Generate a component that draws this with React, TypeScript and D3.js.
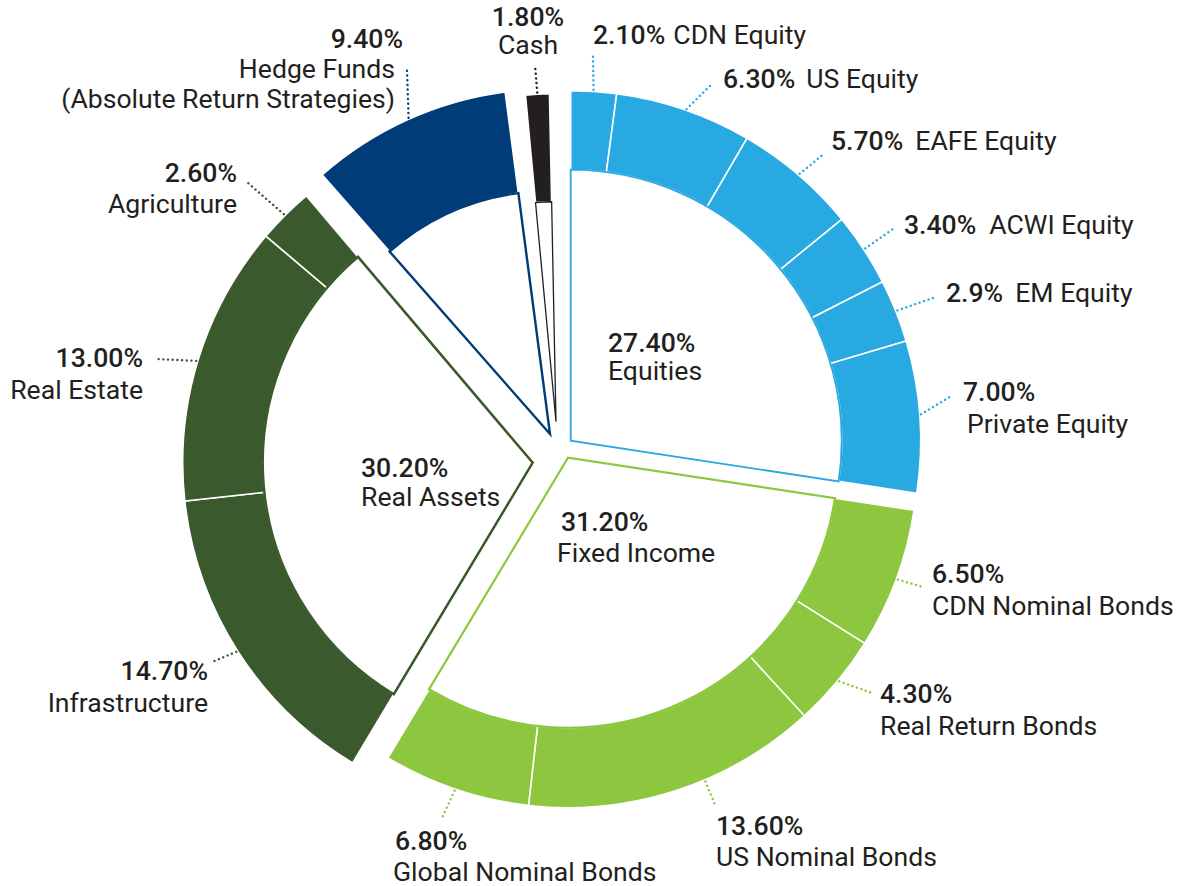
import React from 'react';
import * as d3 from 'd3';

// ---------- DATA ----------
const groupNames = ['Equities', 'Fixed Income', 'Real Assets', 'Hedge Funds', 'Cash'];
const groupValues = [27.4, 31.2, 30.2, 9.4, 1.8];
const groupValueText = ['27.40%', '31.20%', '30.20%', '9.40%', '1.80%'];

const equityNames = ['CDN Equity', 'US Equity', 'EAFE Equity', 'ACWI Equity', 'EM Equity', 'Private Equity'];
const equityValues = [2.1, 6.3, 5.7, 3.4, 2.9, 7.0];
const equityText = ['2.10%', '6.30%', '5.70%', '3.40%', '2.9%', '7.00%'];

const fixedNames = ['CDN Nominal Bonds', 'Real Return Bonds', 'US Nominal Bonds', 'Global Nominal Bonds'];
const fixedValues = [6.5, 4.3, 13.6, 6.8];
const fixedText = ['6.50%', '4.30%', '13.60%', '6.80%'];

const realNames = ['Infrastructure', 'Real Estate', 'Agriculture'];
const realValues = [14.7, 13.0, 2.6];
const realText = ['14.70%', '13.00%', '2.60%'];

const hedgeNames = ['Hedge Funds\n(Absolute Return Strategies)'];
const hedgeValues = [9.4];
const hedgeText = ['9.40%'];

const cashNames = ['Cash'];
const cashValues = [1.8];
const cashText = ['1.80%'];

const subNames = [equityNames, fixedNames, realNames, hedgeNames, cashNames];
const subValues = [equityValues, fixedValues, realValues, hedgeValues, cashValues];
const subText = [equityText, fixedText, realText, hedgeText, cashText];

// ---------- STYLE / LAYOUT ----------
const W = 1188;
const H = 886;
const CENTER: [number, number] = [555, 448];
const TEXT = '#231f20';
const FONT = 'Roboto, "Noto Sans", sans-serif';
const FS = 26.6;
const DEG = Math.PI / 180;

const groupColor: Record<string, string> = {
  'Equities': '#29a9e1',
  'Fixed Income': '#8dc63f',
  'Real Assets': '#3a5a2d',
  'Hedge Funds': '#003c78',
  'Cash': '#231f20',
};

const groupGeom: Record<string, any> = {
  'Equities': { dx: 15.7, dy: -7.3, rIn: 271, rOut: 350, trim: 0, rot: 0, sw: 1.8 },
  'Fixed Income': { dx: 13, dy: 9.7, rIn: 270, rOut: 350, trim: 0, rot: 0, sw: 2.2 },
  'Real Assets': { dx: -22.3, dy: 14.7, rIn: 270, rOut: 350, trim: 0, rot: 0, sw: 2.5 },
  'Hedge Funds': { dx: -5, dy: -14, rIn: 243, rOut: 345, trim: 0, rot: -1, sw: 2.4 },
  'Cash': { dx: 1, dy: -26.3, rIn: 220, rOut: 328, trim: 1.14, rot: 0, sw: 1.3 },
};

const centerLayout: Record<string, any> = {
  'Equities': { x: 608, y: 352, lh: 28 },
  'Fixed Income': { x: 561, x2: 557, y: 531, lh: 31 },
  'Real Assets': { x: 361, y: 477, lh: 29 },
};

const labelLayout: Record<string, any> = {
  'CDN Equity': { x: 593, y: 44, inline: true, gap: 8, lead: [593, 53] },
  'US Equity': { x: 723, y: 88, inline: true, gap: 11, lead: [711, 85] },
  'EAFE Equity': { x: 831, y: 150, inline: true, gap: 12, lead: [825, 153] },
  'ACWI Equity': { x: 904, y: 234, inline: true, gap: 13, lead: [893, 229] },
  'EM Equity': { x: 946, y: 302, inline: true, gap: 12, lead: [933, 298] },
  'Private Equity': { x: 963, x2: 967, y: 401, lh: 32, lead: [953, 395] },
  'CDN Nominal Bonds': { x: 932, y: 583, lh: 32, lead: [923, 587] },
  'Real Return Bonds': { x: 880, y: 703, lh: 32, lead: [872, 693] },
  'US Nominal Bonds': { x: 716, y: 835, lh: 31, lead: [716, 807], aoff: -5 },
  'Global Nominal Bonds': { x: 395, x2: 393, y: 850, lh: 31, lead: [442, 818] },
  'Infrastructure': { x: 208, y: 680, lh: 32, anchor: 'end', lead: [212, 662] },
  'Real Estate': { x: 143, y: 367, lh: 32, anchor: 'end', lead: [155, 359] },
  'Agriculture': { x: 237, y: 182, lh: 31, anchor: 'end', lead: [248, 183] },
  'Hedge Funds\n(Absolute Return Strategies)': { x: 403, x2: 395, y: 48, lh: 30, anchor: 'end', lead: [407, 70] },
  'Cash': { x: 528, y: 26, lh: 28, anchor: 'middle', lead: [535, 65] },
};

export default function App() {
  const groupPie = d3
    .pie<number>()
    .sort(null)
    .value((d) => d)(groupValues);

  const groups = groupNames.map((name, gi) => {
    const g = groupPie[gi];
    const geom = groupGeom[name];
    const cx = CENTER[0] + geom.dx;
    const cy = CENTER[1] + geom.dy;
    const start = g.startAngle + (geom.trim + geom.rot) * DEG;
    const end = g.endAngle + (geom.rot - geom.trim) * DEG;
    const subs = d3
      .pie<number>()
      .sort(null)
      .startAngle(start)
      .endAngle(end)
      .value((d) => d)(subValues[gi]);
    return { name, gi, geom, cx, cy, start, end, subs };
  });

  const ringArc = (geom: any) => d3.arc<any>().innerRadius(geom.rIn).outerRadius(geom.rOut);
  const innerArc = (geom: any) => d3.arc<any>().innerRadius(0).outerRadius(geom.rIn);

  return (
    <svg
      width={W}
      height={H}
      viewBox={`0 0 ${W} ${H}`}
      style={{ position: 'absolute', left: 0, top: 0, background: '#fff' }}
      fontFamily={FONT}
    >
      {groups.map((G) => {
        const color = groupColor[G.name];
        return (
          <g key={G.name} transform={`translate(${G.cx},${G.cy})`}>
            {G.subs.map((s, si) => (
              <path
                key={si}
                d={ringArc(G.geom)(s) as string}
                fill={color}
                stroke="#fff"
                strokeWidth={1.6}
                strokeLinejoin="miter"
              />
            ))}
            <path
              d={innerArc(G.geom)({ startAngle: G.start, endAngle: G.end }) as string}
              fill="#fff"
              stroke={color}
              strokeWidth={G.geom.sw}
              strokeLinejoin="miter"
            />
          </g>
        );
      })}

      {/* leader lines */}
      {groups.map((G) =>
        G.subs.map((s, si) => {
          const name = subNames[G.gi][si];
          const lay = labelLayout[name];
          const m = (s.startAngle + s.endAngle) / 2 + (lay.aoff || 0) * DEG;
          const r = G.geom.rOut - 3;
          const x1 = G.cx + r * Math.sin(m);
          const y1 = G.cy - r * Math.cos(m);
          return (
            <line
              key={name}
              x1={x1}
              y1={y1}
              x2={lay.lead[0]}
              y2={lay.lead[1]}
              stroke={groupColor[G.name]}
              strokeWidth={2.4}
              strokeDasharray="0.1 4.6"
              strokeLinecap="round"
            />
          );
        })
      )}

      {/* outer labels */}
      {groups.map((G) =>
        subNames[G.gi].map((name, si) => {
          const lay = labelLayout[name];
          const pct = subText[G.gi][si];
          const anchor = lay.anchor || 'start';
          if (lay.inline) {
            return (
              <text key={name} x={lay.x} y={lay.y} fontSize={FS} fill={TEXT}>
                <tspan fontWeight={500}>{pct}</tspan>
                <tspan dx={lay.gap}>{name}</tspan>
              </text>
            );
          }
          const lines = name.split('\n');
          return (
            <text key={name} fontSize={FS} fill={TEXT} textAnchor={anchor}>
              <tspan x={lay.x} y={lay.y} fontWeight={500}>
                {pct}
              </tspan>
              {lines.map((ln, li) => (
                <tspan key={li} x={lay.x2 ?? lay.x} y={lay.y + lay.lh * (li + 1)}>
                  {ln}
                </tspan>
              ))}
            </text>
          );
        })
      )}

      {/* center labels */}
      {groupNames.map((name, gi) => {
        const lay = centerLayout[name];
        if (!lay) return null;
        return (
          <text key={name} fontSize={FS} fill={TEXT}>
            <tspan x={lay.x} y={lay.y} fontWeight={500}>
              {groupValueText[gi]}
            </tspan>
            <tspan x={lay.x2 ?? lay.x} y={lay.y + lay.lh}>
              {name}
            </tspan>
          </text>
        );
      })}
    </svg>
  );
}
